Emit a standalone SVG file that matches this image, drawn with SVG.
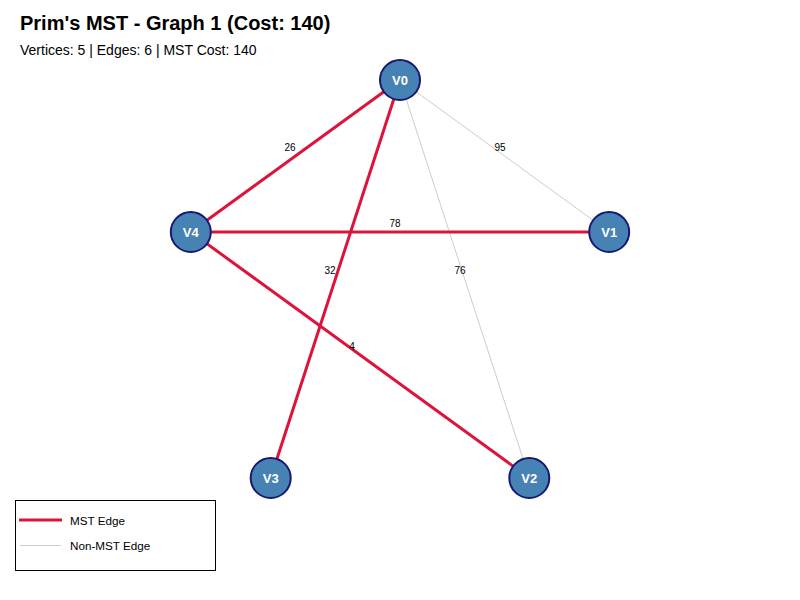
<svg xmlns="http://www.w3.org/2000/svg" width="800" height="600" viewBox="0 0 800 600">
<style>
.mst{stroke:#DC143C;stroke-width:3;fill:none}
.non{stroke:#CCCCCC;stroke-width:1;fill:none}
.el{font-family:"Liberation Sans",Arial,sans-serif;font-size:10px;fill:#000;text-anchor:middle}
.node circle{fill:#4682B4;stroke:#191970;stroke-width:2}
.node text{font-family:"Liberation Sans",Arial,sans-serif;font-size:13px;font-weight:bold;fill:#fff;text-anchor:middle}
.lg{font-family:"Liberation Sans",Arial,sans-serif;font-size:11.7px;fill:#000}
</style>
<rect width="800" height="600" fill="#fff"/>
<text x="20" y="30" font-family="'Liberation Sans',Arial,sans-serif" font-size="20" font-weight="bold" fill="#000">Prim's MST - Graph 1 (Cost: 140)</text>
<text x="20" y="55" font-family="'Liberation Sans',Arial,sans-serif" font-size="14" fill="#000">Vertices: 5 | Edges: 6 | MST Cost: 140</text>
<g id="edges">
<line class="non" x1="400" y1="80" x2="609.2" y2="232"/>
<line class="non" x1="400" y1="80" x2="529.3" y2="478"/>
<line class="mst" x1="400" y1="80" x2="190.8" y2="232"/>
<line class="mst" x1="190.8" y1="232" x2="609.2" y2="232"/>
<line class="mst" x1="400" y1="80" x2="270.7" y2="478"/>
<line class="mst" x1="190.8" y1="232" x2="529.3" y2="478"/>
<text class="el" x="290" y="151">26</text>
<text class="el" x="500" y="151">95</text>
<text class="el" x="395" y="227">78</text>
<text class="el" x="330" y="274">32</text>
<text class="el" x="460" y="274">76</text>
<text class="el" x="352" y="350">4</text>
</g>
<g id="V0" class="node"><circle cx="400" cy="80" r="20"/><text x="400" y="85">V0</text></g>
<g id="V1" class="node"><circle cx="609.2" cy="232" r="20"/><text x="609.2" y="237">V1</text></g>
<g id="V2" class="node"><circle cx="529.3" cy="478" r="20"/><text x="529.3" y="483">V2</text></g>
<g id="V3" class="node"><circle cx="270.7" cy="478" r="20"/><text x="270.7" y="483">V3</text></g>
<g id="V4" class="node"><circle cx="190.8" cy="232" r="20"/><text x="190.8" y="237">V4</text></g>
<g id="legend">
<rect x="15.5" y="500.5" width="200" height="70" fill="#fff" stroke="#000" stroke-width="1"/>
<line class="mst" x1="19" y1="520" x2="62" y2="520"/>
<line class="non" x1="20" y1="545.5" x2="61" y2="545.5"/>
<text class="lg" x="70" y="524.5">MST Edge</text>
<text class="lg" x="70" y="549.5">Non-MST Edge</text>
</g>
</svg>
